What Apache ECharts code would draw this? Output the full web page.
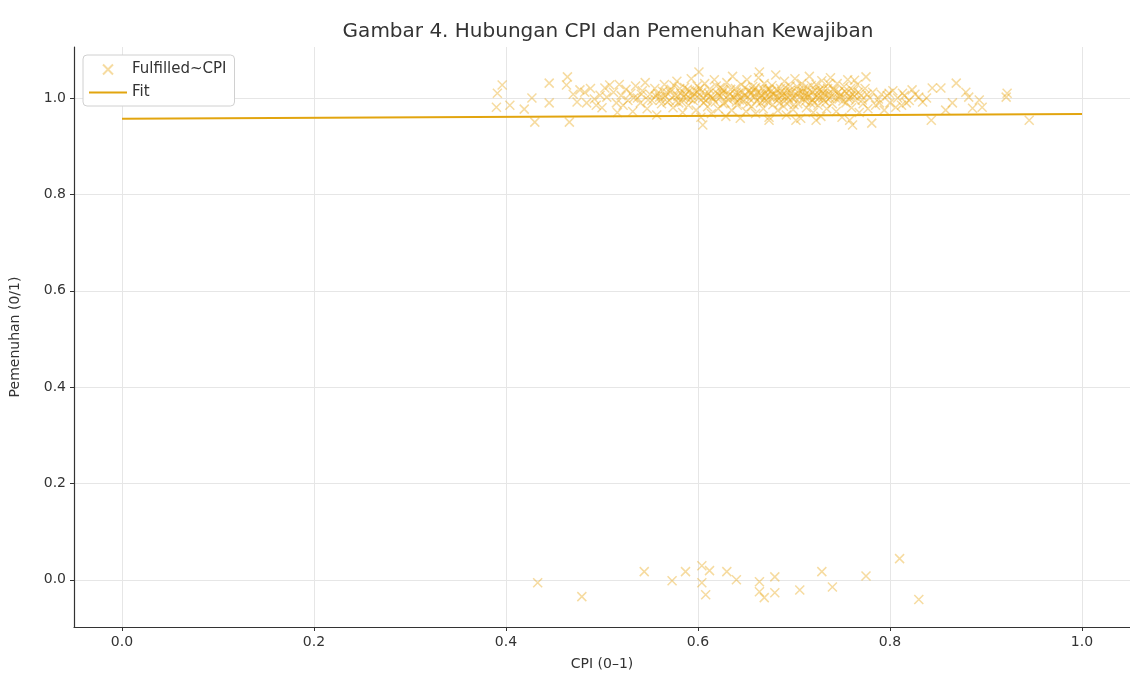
<!DOCTYPE html>
<html>
<head>
<meta charset="utf-8">
<script src="https://cdn.jsdelivr.net/npm/echarts@6/dist/echarts.min.js"></script>
<style>html,body{margin:0;padding:0;background:#fff}#c{width:1130px;height:677px}</style>
</head>
<body>
<div id="c"></div>
<script>
// Upper group (fulfilled ≈ 1, jittered) : [CPI, Pemenuhan]
const upperPoints = [
[0.396,1.027],[0.391,1.010],[0.390,0.981],[0.404,0.985],[0.427,1.000],[0.419,0.977],[0.430,0.950],[0.445,0.990],[0.445,1.031],[0.464,1.044],[0.463,1.027],[0.466,0.950],[0.477,1.017],[0.484,0.990],[0.494,0.985],[0.503,1.021],[0.505,1.002],[0.508,1.027],[0.515,0.990],
[0.470,1.008],[0.474,0.992],[0.482,1.012],[0.488,1.020],[0.492,0.998],[0.498,1.006],[0.500,0.980],[0.512,1.012],[0.516,0.970],[0.518,1.028],
[0.520,1.005],[0.522,0.985],[0.525,1.018],[0.527,0.995],[0.530,1.010],[0.532,0.972],[0.535,1.025],[0.537,1.000],[0.540,0.990],[0.542,1.015],[0.545,1.032],[0.547,0.978],[0.550,1.008],[0.552,0.995],[0.555,1.020],[0.557,0.965],[0.560,1.002],[0.562,0.988],[0.565,1.028],[0.567,1.012],
[0.570,0.995],[0.572,1.018],[0.574,0.980],[0.576,1.005],[0.578,1.035],[0.580,0.990],[0.582,1.010],[0.584,0.970],[0.586,1.022],[0.588,1.000],[0.590,0.985],[0.591,1.015],[0.593,1.040],[0.595,0.995],[0.596,1.008],[0.598,0.975],[0.599,1.025],[0.601,1.000],[0.603,0.960],[0.604,1.012],[0.606,0.990],[0.607,1.030],[0.609,1.005],[0.610,0.982],[0.612,1.018],[0.614,0.968],[0.615,1.000],[0.617,1.038],[0.618,0.992],[0.620,1.010],
[0.621,0.978],[0.623,1.022],[0.624,1.003],[0.626,0.988],[0.627,1.015],[0.629,0.962],[0.630,1.032],[0.632,0.996],[0.633,1.008],[0.635,0.975],[0.636,1.045],[0.638,1.000],[0.639,1.020],[0.641,0.985],[0.642,1.010],[0.644,0.958],[0.645,1.028],[0.647,0.993],[0.648,1.005],[0.650,0.972],[0.651,1.038],[0.653,1.015],[0.654,0.998],[0.656,0.982],[0.657,1.024],[0.659,1.002],[0.660,0.968],[0.662,1.012],[0.663,1.042],[0.665,0.990],[0.666,1.006],[0.668,0.978],[0.669,1.030],[0.671,0.995],[0.672,1.018],[0.674,0.960],[0.675,1.003],[0.677,1.026],[0.678,0.986],[0.680,1.010],
[0.681,1.048],[0.683,0.974],[0.684,0.998],[0.686,1.020],[0.687,1.005],[0.689,0.983],[0.690,1.035],[0.692,0.965],[0.693,1.012],[0.695,0.992],[0.696,1.025],[0.698,1.000],[0.699,0.976],[0.701,1.040],[0.702,1.008],[0.704,0.988],[0.705,1.016],[0.707,0.958],[0.708,1.030],[0.710,0.997],[0.711,1.005],[0.713,0.980],[0.714,1.022],[0.716,1.045],[0.717,0.990],[0.719,1.012],[0.720,0.970],[0.722,1.002],[0.723,1.028],[0.725,0.985],[0.726,1.015],[0.728,0.962],[0.729,1.036],[0.731,0.995],[0.732,1.008],[0.734,0.978],[0.735,1.020],[0.737,1.000],[0.738,1.042],[0.740,0.988],
[0.742,1.015],[0.744,0.972],[0.745,1.030],[0.747,0.998],[0.749,1.008],[0.750,0.960],[0.752,1.024],[0.754,0.990],[0.756,1.038],[0.758,1.002],[0.760,0.980],[0.762,1.015],[0.764,0.995],[0.766,1.028],[0.768,0.970],[0.770,1.005],[0.772,0.988],[0.774,1.020],[0.777,0.978],[0.779,1.000],[0.782,1.012],[0.785,0.985],[0.788,0.998],[0.791,1.008],[0.794,0.975],
[0.585,1.002],[0.592,0.998],[0.597,1.015],[0.602,1.020],[0.608,0.995],[0.613,1.003],[0.619,1.025],[0.625,1.010],[0.628,0.990],[0.634,1.018],[0.637,1.002],[0.643,0.996],[0.646,1.012],[0.649,1.022],[0.652,0.988],[0.655,1.008],[0.658,1.016],[0.661,0.994],[0.664,1.000],[0.667,1.020],[0.670,1.010],[0.673,0.992],[0.676,1.014],[0.679,1.000],[0.682,1.018],[0.685,0.990],[0.688,1.006],[0.691,1.022],[0.694,1.000],[0.697,1.010],[0.700,0.986],[0.703,1.024],[0.706,1.002],[0.709,1.014],[0.712,0.994],[0.715,1.008],[0.718,1.026],[0.721,0.990],[0.724,1.004],[0.727,1.018],[0.730,1.010],[0.733,0.992],[0.736,1.030],[0.739,1.004],[0.743,1.000],[0.746,1.012],[0.751,0.994],[0.755,1.010],[0.759,1.020],[0.763,1.004],[0.533,1.000],[0.541,1.008],[0.548,0.996],[0.556,1.004],[0.563,1.014],[0.568,0.992],[0.575,1.026],[0.579,1.004],[0.583,0.992],[0.589,1.018],
[0.558,1.010],[0.561,0.996],[0.566,1.004],[0.571,1.012],[0.577,0.994],[0.581,1.020],[0.587,1.008],[0.594,1.004],[0.600,1.012],[0.605,1.000],[0.611,1.010],[0.616,0.998],[0.622,1.006],[0.626,1.018],[0.631,1.004],[0.640,1.012],[0.644,1.000],[0.650,1.006],[0.656,1.012],[0.660,1.022],[0.665,1.010],[0.671,1.004],[0.674,1.018],[0.678,1.008],[0.683,1.002],[0.687,1.014],[0.692,1.004],[0.696,1.016],[0.701,1.000],[0.705,1.010],[0.710,1.020],[0.714,1.002],[0.719,0.996],[0.722,1.016],[0.726,1.000],[0.731,1.020],[0.735,1.008],[0.741,1.018],[0.748,1.004],[0.753,1.014],[0.757,0.998],[0.761,1.008],[0.767,1.012],[0.771,0.996],[0.776,1.008],[0.640,0.992],[0.668,0.996],[0.690,0.994],[0.713,1.010],[0.730,1.000],
[0.601,1.054],[0.605,0.944],[0.664,1.054],[0.763,1.037],[0.775,1.044],[0.761,0.944],[0.781,0.948],[0.758,0.954],[0.674,0.954],[0.702,0.954],[0.723,0.954],
[0.797,1.005],[0.800,0.990],[0.803,1.015],[0.808,1.000],[0.812,0.985],[0.815,1.005],[0.820,0.995],[0.826,1.008],[0.834,0.992],[0.838,1.000],
[0.799,1.010],[0.813,1.010],[0.823,1.017],[0.830,1.002],[0.817,0.990],[0.844,1.021],[0.853,1.021],[0.869,1.031],[0.879,1.012],[0.882,1.002],[0.865,0.990],[0.893,0.996],[0.896,0.981],[0.886,0.979],[0.858,0.975],[0.843,0.954],[0.922,1.010],[0.921,1.002],[0.945,0.954],[0.806,0.981],[0.789,0.990]
];
// Lower group (not fulfilled ≈ 0, jittered)
const lowerPoints = [
[0.433,-0.006],[0.479,-0.035],[0.544,0.017],[0.573,-0.002],[0.587,0.017],[0.604,0.029],[0.612,0.019],[0.604,-0.006],[0.608,-0.031],[0.630,0.017],[0.640,0.000],[0.664,-0.004],[0.664,-0.025],[0.669,-0.037],[0.680,0.006],[0.680,-0.027],[0.706,-0.021],[0.729,0.017],[0.740,-0.015],[0.775,0.008],[0.810,0.044],[0.830,-0.041]
];
// Linear fit endpoints
const fitPoints = [[0.0,0.957],[1.0,0.967]];
const xTicks = [0.0,0.2,0.4,0.6,0.8,1.0];
const yTicks = [0.0,0.2,0.4,0.6,0.8,1.0];

const font = 'DejaVu Sans';
const chart = echarts.init(document.getElementById('c'));
const axisCommon = {
  axisLine:{show:true,onZero:false,lineStyle:{color:'#333',width:1.2}},
  axisTick:{show:true,length:4,lineStyle:{color:'#333'}},
  axisLabel:{color:'#333',fontFamily:font,fontSize:14,formatter:v=>v.toFixed(1)},
  splitLine:{show:true,lineStyle:{color:'#e6e6e6',width:1}},
  nameLocation:'middle',
  nameTextStyle:{color:'#333',fontFamily:font,fontSize:14}
};
chart.setOption({
  animation:false,
  title:{text:'Gambar 4. Hubungan CPI dan Pemenuhan Kewajiban',left:603,textAlign:'center',top:17,
    textStyle:{fontFamily:font,fontSize:20,fontWeight:'normal',color:'#333'}},
  grid:{left:74,right:-1,top:47,bottom:50},
  legend:{left:83,top:55,orient:'vertical',backgroundColor:'#fff',borderColor:'#d0d0d0',borderWidth:1,borderRadius:4,
    padding:[7,8,6,6],itemGap:8,itemWidth:38,itemHeight:10,
    textStyle:{fontFamily:font,fontSize:15,color:'#333'},
    data:[{name:'Fulfilled~CPI'},{name:'Fit',icon:'path://M0,0H38V2H0Z'}]},
  xAxis:Object.assign({},axisCommon,{type:'value',min:-0.05,max:1.05,name:'CPI (0–1)',nameGap:30,
    axisTick:Object.assign({},axisCommon.axisTick,{customValues:xTicks}),
    axisLabel:Object.assign({},axisCommon.axisLabel,{customValues:xTicks,margin:8})}),
  yAxis:Object.assign({},axisCommon,{type:'value',min:-0.098,max:1.106,name:'Pemenuhan (0/1)',nameGap:52,
    axisTick:Object.assign({},axisCommon.axisTick,{customValues:yTicks}),
    axisLabel:Object.assign({},axisCommon.axisLabel,{customValues:yTicks,margin:8})}),
  series:[
    {name:'Fulfilled~CPI',type:'scatter',data:upperPoints.concat(lowerPoints),
      symbol:'path://M0,0L10,10M10,0L0,10',symbolSize:9,
      itemStyle:{color:'rgba(0,0,0,0)',borderColor:'rgba(232,164,18,0.5)',borderWidth:1.5}},
    {name:'Fit',type:'line',data:fitPoints,showSymbol:false,symbol:'none',
      lineStyle:{color:'#E2A50F',width:2},itemStyle:{color:'#E2A50F'},z:3}
  ]
});
</script>
</body>
</html>
